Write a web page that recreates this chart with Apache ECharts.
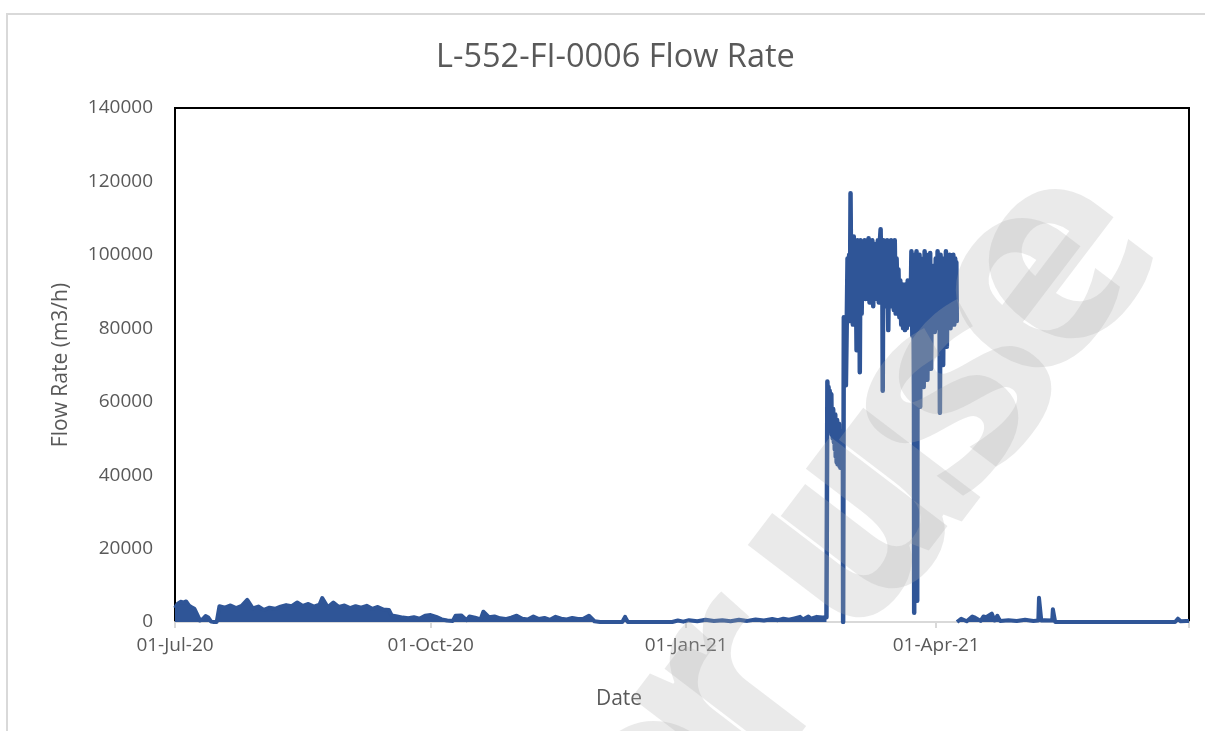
<!DOCTYPE html>
<html>
<head>
<meta charset="utf-8">
<title>L-552-FI-0006 Flow Rate</title>
<script src="https://cdn.jsdelivr.net/npm/echarts@6/dist/echarts.min.js"></script>
<style>
  html, body { margin: 0; padding: 0; background: #fff; }
  #chart { width: 1205px; height: 731px; }
</style>
</head>
<body>
<div id="chart"></div>
<script>
// low flow periods (upper edge of the noisy band), null = gap while the high-flow trace runs
const baseTimes = [
  '2020-07-01', '2020-07-02', '2020-07-03', '2020-07-04', '2020-07-05', '2020-07-06', '2020-07-07',
  '2020-07-08', '2020-07-09', '2020-07-10', '2020-07-11', '2020-07-12', '2020-07-13', '2020-07-14',
  '2020-07-15', '2020-07-16', '2020-07-17', '2020-07-19', '2020-07-21', '2020-07-23', '2020-07-25',
  '2020-07-27', '2020-07-29', '2020-07-31', '2020-08-02', '2020-08-04', '2020-08-06', '2020-08-08',
  '2020-08-10', '2020-08-12', '2020-08-14', '2020-08-16', '2020-08-18', '2020-08-20', '2020-08-22',
  '2020-08-23', '2020-08-25', '2020-08-27', '2020-08-29', '2020-08-31', '2020-09-02', '2020-09-04',
  '2020-09-06', '2020-09-08', '2020-09-10', '2020-09-12', '2020-09-14', '2020-09-16', '2020-09-17',
  '2020-09-19', '2020-09-21', '2020-09-23', '2020-09-25', '2020-09-27', '2020-09-29', '2020-10-01',
  '2020-10-03', '2020-10-05', '2020-10-07', '2020-10-09', '2020-10-10', '2020-10-12', '2020-10-14',
  '2020-10-15', '2020-10-17', '2020-10-19', '2020-10-20', '2020-10-22', '2020-10-24', '2020-10-26',
  '2020-10-28', '2020-10-30', '2020-11-01', '2020-11-03', '2020-11-05', '2020-11-07', '2020-11-09',
  '2020-11-11', '2020-11-13', '2020-11-15', '2020-11-17', '2020-11-19', '2020-11-21', '2020-11-23',
  '2020-11-25', '2020-11-27', '2020-11-29', '2020-12-01', '2020-12-09', '2020-12-10', '2020-12-11',
  '2020-12-27', '2020-12-29', '2020-12-31', '2021-01-02', '2021-01-05', '2021-01-08', '2021-01-11',
  '2021-01-14', '2021-01-17', '2021-01-20', '2021-01-23', '2021-01-26', '2021-01-29', '2021-02-01',
  '2021-02-03', '2021-02-05', '2021-02-07', '2021-02-09', '2021-02-11', '2021-02-12', '2021-02-14',
  '2021-02-15', '2021-02-17', '2021-02-19', '2021-02-20 12:00',
  '2021-03-01',
  '2021-04-08 12:00', '2021-04-10', '2021-04-12', '2021-04-14', '2021-04-15', '2021-04-17', '2021-04-18',
  '2021-04-19', '2021-04-21', '2021-04-22', '2021-04-23', '2021-04-24', '2021-04-27', '2021-04-30',
  '2021-05-03', '2021-05-06', '2021-05-07 18:00', '2021-05-08', '2021-05-08 14:00', '2021-05-08 20:00',
  '2021-05-10', '2021-05-12 18:00', '2021-05-13', '2021-05-13 14:00', '2021-05-13 20:00', '2021-06-26',
  '2021-06-27', '2021-06-28', '2021-06-30', '2021-07-01'
];
const baseFlow = [
  3800, 5000, 5500, 5300, 5600, 4500, 4000,
  3600, 2000, 400, 800, 1600, 1200, 100,
  0, 0, 4300, 3900, 4500, 3800, 4400,
  6000, 3700, 4200, 3300, 3900, 3600, 4200,
  4600, 4300, 5300, 4400, 4900, 4200, 4700,
  6500, 4000, 5300, 4100, 4500, 3800, 4300,
  3900, 4400, 3600, 4100, 3400, 3300, 1800,
  1500, 1200, 1000, 1300, 900, 1700, 1900,
  1400, 700, 400, 300, 1700, 1800, 500,
  1500, 1200, 700, 2800, 1300, 1500, 1000,
  800, 1200, 1700, 900, 700, 1500, 800,
  1100, 600, 1400, 900, 700, 1100, 800,
  900, 1700, 200, 0, 0, 1400, 0,
  0, 400, 100, 500, 200, 600, 300,
  500, 200, 600, 300, 700, 400, 800,
  500, 900, 600, 1000, 1400, 700, 1500,
  900, 1400, 1200, 1300,
  null,
  0, 900, 200, 1500, 1200, 300, 1500,
  1300, 2300, 400, 1700, 300, 500, 300,
  600, 300, 400, 6600, 6400, 400,
  500, 400, 3500, 3400, 0, 0,
  900, 200, 300, 300
];

// high flow period Feb-Apr 2021 (hourly swings drawn as a dense trace)
const highTimes = [
  '2021-02-20 12:00', '2021-02-20 20:00', '2021-02-21 02:00', '2021-02-21 06:00', '2021-02-21 12:00',
  '2021-02-21 16:00', '2021-02-21 20:00', '2021-02-22 02:00', '2021-02-22 06:00', '2021-02-22 10:00',
  '2021-02-22 14:00', '2021-02-22 18:00', '2021-02-22 22:00', '2021-02-23 04:00', '2021-02-23 08:00',
  '2021-02-23 12:00', '2021-02-23 16:00', '2021-02-23 20:00', '2021-02-24 00:00', '2021-02-24 04:00',
  '2021-02-24 08:00', '2021-02-24 12:00', '2021-02-24 16:00', '2021-02-24 20:00', '2021-02-25 00:00',
  '2021-02-25 04:00', '2021-02-25 08:00', '2021-02-25 12:00', '2021-02-25 16:00', '2021-02-25 20:00',
  '2021-02-26 00:00', '2021-02-26 10:00', '2021-02-26 12:00', '2021-02-26 16:00',
  '2021-02-26 18:00', '2021-02-27 04:00', '2021-02-27 12:00', '2021-02-27 20:00', '2021-02-28 02:00',
  '2021-02-28 10:00', '2021-02-28 16:00', '2021-02-28 22:00', '2021-03-01 04:00', '2021-03-01 10:00',
  '2021-03-01 16:00', '2021-03-02 00:00', '2021-03-02 08:00', '2021-03-02 16:00', '2021-03-03 00:00',
  '2021-03-03 08:00', '2021-03-03 16:00', '2021-03-04 00:00', '2021-03-04 08:00', '2021-03-04 12:00',
  '2021-03-04 18:00', '2021-03-05 04:00', '2021-03-05 12:00', '2021-03-05 20:00', '2021-03-06 06:00',
  '2021-03-06 14:00', '2021-03-06 22:00', '2021-03-07 08:00', '2021-03-07 16:00', '2021-03-08 00:00',
  '2021-03-08 08:00', '2021-03-08 16:00', '2021-03-09 00:00', '2021-03-09 08:00', '2021-03-09 16:00',
  '2021-03-10 00:00', '2021-03-10 08:00', '2021-03-10 16:00', '2021-03-11 00:00', '2021-03-11 08:00',
  '2021-03-11 16:00', '2021-03-12 00:00', '2021-03-12 08:00', '2021-03-12 14:00', '2021-03-12 18:00',
  '2021-03-13 00:00', '2021-03-13 08:00', '2021-03-13 16:00', '2021-03-14 00:00', '2021-03-14 08:00',
  '2021-03-14 18:00', '2021-03-15 02:00', '2021-03-15 10:00', '2021-03-15 18:00', '2021-03-16 02:00',
  '2021-03-16 10:00', '2021-03-16 18:00', '2021-03-17 02:00', '2021-03-17 10:00', '2021-03-17 18:00',
  '2021-03-18 02:00', '2021-03-18 10:00', '2021-03-18 18:00', '2021-03-19 02:00', '2021-03-19 10:00',
  '2021-03-19 18:00', '2021-03-20 02:00', '2021-03-20 10:00', '2021-03-20 18:00', '2021-03-21 02:00',
  '2021-03-21 10:00', '2021-03-21 18:00', '2021-03-22 02:00', '2021-03-22 10:00', '2021-03-22 18:00',
  '2021-03-23 02:00', '2021-03-23 10:00', '2021-03-23 18:00', '2021-03-24 00:00', '2021-03-24 02:00',
  '2021-03-24 06:00', '2021-03-24 14:00', '2021-03-24 22:00', '2021-03-25 04:00', '2021-03-25 08:00',
  '2021-03-25 16:00', '2021-03-26 00:00', '2021-03-26 06:00', '2021-03-26 12:00', '2021-03-26 20:00',
  '2021-03-27 04:00', '2021-03-27 12:00', '2021-03-27 20:00', '2021-03-28 04:00', '2021-03-28 12:00',
  '2021-03-28 20:00', '2021-03-29 04:00', '2021-03-29 12:00', '2021-03-29 20:00', '2021-03-30 04:00',
  '2021-03-30 12:00', '2021-03-30 20:00', '2021-03-31 04:00', '2021-03-31 12:00', '2021-03-31 20:00',
  '2021-04-01 04:00', '2021-04-01 12:00', '2021-04-01 20:00', '2021-04-02 04:00', '2021-04-02 08:00',
  '2021-04-02 14:00', '2021-04-02 20:00', '2021-04-03 04:00', '2021-04-03 12:00', '2021-04-03 20:00',
  '2021-04-04 04:00', '2021-04-04 12:00', '2021-04-04 20:00', '2021-04-05 04:00', '2021-04-05 12:00',
  '2021-04-05 20:00', '2021-04-06 04:00', '2021-04-06 12:00', '2021-04-06 20:00', '2021-04-07 04:00',
  '2021-04-07 12:00', '2021-04-07 20:00', '2021-04-08 02:00', '2021-04-08 06:00', '2021-04-08 10:00',
  '2021-04-08 12:00'
];
const highFlow = [
  1300, 65500, 58000, 64000, 56000,
  63000, 57000, 52000, 62000, 51000,
  57000, 50000, 58000, 49000, 56000,
  47000, 56500, 45000, 55000, 43500,
  55000, 43000, 54000, 43000, 54000,
  42500, 52000, 42000, 50000, 42500,
  45000, 44000, 0, 0,
  83000, 82000, 64500, 83000, 99000,
  84000, 100000, 82000, 116800, 90000,
  104000, 81000, 105000, 88000, 103000,
  74000, 104000, 92000, 102000, 68000,
  104000, 84000, 102000, 89000, 104000,
  88000, 103000, 90000, 104500, 87000,
  102000, 89000, 104000, 86000, 103000,
  88000, 102500, 90000, 104000, 87000,
  103000, 107000, 88000, 103000, 63000,
  104000, 90000, 103000, 86000, 104000,
  79500, 103000, 90000, 104000, 86000,
  103000, 85000, 104000, 84000, 99000,
  88000, 96000, 83000, 93000, 81000,
  92000, 80000, 91000, 79500, 92000,
  80000, 93000, 81000, 92000, 83000,
  101000, 78000, 100000, 60000, 2500,
  99000, 80000, 101000, 5800, 98000,
  80000, 100000, 58600, 99000, 82000,
  97000, 64000, 101000, 78000, 100000,
  66000, 99000, 80000, 100500, 69000,
  96000, 80000, 97000, 79000, 99000,
  81000, 101000, 80000, 100000, 57000,
  100000, 82000, 97000, 70000, 99000,
  82000, 101000, 75000, 98000, 83000,
  100000, 80000, 99000, 84000, 100000,
  81000, 99000, 83000, 98000, 82000,
  82000, 0
];

const yTicks = [0, 20000, 40000, 60000, 80000, 100000, 120000, 140000];
const dateLabels = ['2020-07-01', '2020-10-01', '2021-01-01', '2021-04-01'];
const dateTicks = ['2020-07-01', '2020-10-01', '2021-01-01', '2021-04-01', '2021-07-01'];

const months = ['Jan','Feb','Mar','Apr','May','Jun','Jul','Aug','Sep','Oct','Nov','Dec'];
function toTime(s) {
  return echarts.time.parse(s).getTime();
}
function fmtDate(v) {
  const d = new Date(v);
  const dd = ('0' + d.getDate()).slice(-2);
  const yy = ('' + d.getFullYear()).slice(-2);
  return dd + '-' + months[d.getMonth()] + '-' + yy;
}

const textColor = '#595959';
const lineColor = '#2f5597';
const font = '"Open Sans", "Noto Sans", sans-serif';
const markFill = 'rgba(175,175,175,0.26)';

const myChart = echarts.init(document.getElementById('chart'));
const option = {
  animation: false,
  backgroundColor: '#fff',
  title: {
    text: 'L-552-FI-0006 Flow Rate',
    left: 431,
    top: 36,
    textStyle: { color: textColor, fontFamily: font, fontSize: 32.5, fontWeight: 'normal' }
  },
  grid: {
    left: 175,
    right: 16,
    top: 108,
    bottom: 109,
    show: true,
    borderColor: '#000',
    borderWidth: 2,
    backgroundColor: 'transparent'
  },
  xAxis: {
    type: 'value',
    min: toTime(dateTicks[0]),
    max: toTime(dateTicks[dateTicks.length - 1]),
    name: 'Date',
    nameLocation: 'middle',
    nameGap: 67,
    nameTextStyle: { color: textColor, fontFamily: font, fontSize: 21, padding: [0, 126, 0, 0] },
    axisLine: { show: true, lineStyle: { color: '#d9d9d9', width: 2 } },
    axisTick: {
      show: true,
      length: 6,
      customValues: dateTicks.map(toTime),
      lineStyle: { color: '#d9d9d9', width: 2 }
    },
    axisLabel: {
      customValues: dateLabels.map(toTime),
      formatter: fmtDate,
      color: textColor,
      fontFamily: font,
      fontSize: 19,
      margin: 14
    },
    splitLine: { show: false }
  },
  yAxis: {
    type: 'value',
    min: yTicks[0],
    max: yTicks[yTicks.length - 1],
    interval: 20000,
    name: 'Flow Rate (m3/h)',
    nameLocation: 'middle',
    nameGap: 103,
    nameTextStyle: { color: textColor, fontFamily: font, fontSize: 21 },
    axisLine: { show: false },
    axisTick: { show: false },
    axisLabel: {
      color: textColor, fontFamily: font, fontSize: 19, margin: 22,
      formatter: v => String(v)
    },
    splitLine: { show: false }
  },
  series: [
    {
      name: 'base',
      type: 'line',
      data: baseTimes.map((t, i) => [toTime(t), baseFlow[i]]),
      symbol: 'none',
      connectNulls: false,
      lineStyle: { color: lineColor, width: 4, join: 'round' },
      areaStyle: { color: lineColor, opacity: 1 },
      z: 3
    },
    {
      name: 'high',
      type: 'line',
      data: highTimes.map((t, i) => [toTime(t), highFlow[i]]),
      symbol: 'none',
      lineStyle: { color: lineColor, width: 4.5, join: 'round', cap: 'round' },
      z: 3
    }
  ],
  graphic: [
    {
      type: 'rect',
      silent: true,
      shape: { x: 7, y: 14, width: 1230, height: 760 },
      style: { fill: 'none', stroke: '#d9d9d9', lineWidth: 2 },
      z: 1
    },
    {
      type: 'text',
      silent: true,
      x: 1077,
      y: 229,
      rotation: 0.92,
      style: {
        text: 'Not for use',
        font: 'bold 270px "Open Sans", sans-serif',
        fill: markFill,
        textAlign: 'right',
        textVerticalAlign: 'middle'
      },
      z: 100
    },
    {
      type: 'text',
      silent: true,
      x: 1110,
      y: 200,
      rotation: 0.92,
      style: {
        text: 'Not for use',
        font: 'bold 270px "Open Sans", sans-serif',
        fill: markFill,
        textAlign: 'right',
        textVerticalAlign: 'middle'
      },
      z: 100
    }
  ]
};
myChart.setOption(option);
window.onresize = myChart.resize;
</script>
</body>
</html>
